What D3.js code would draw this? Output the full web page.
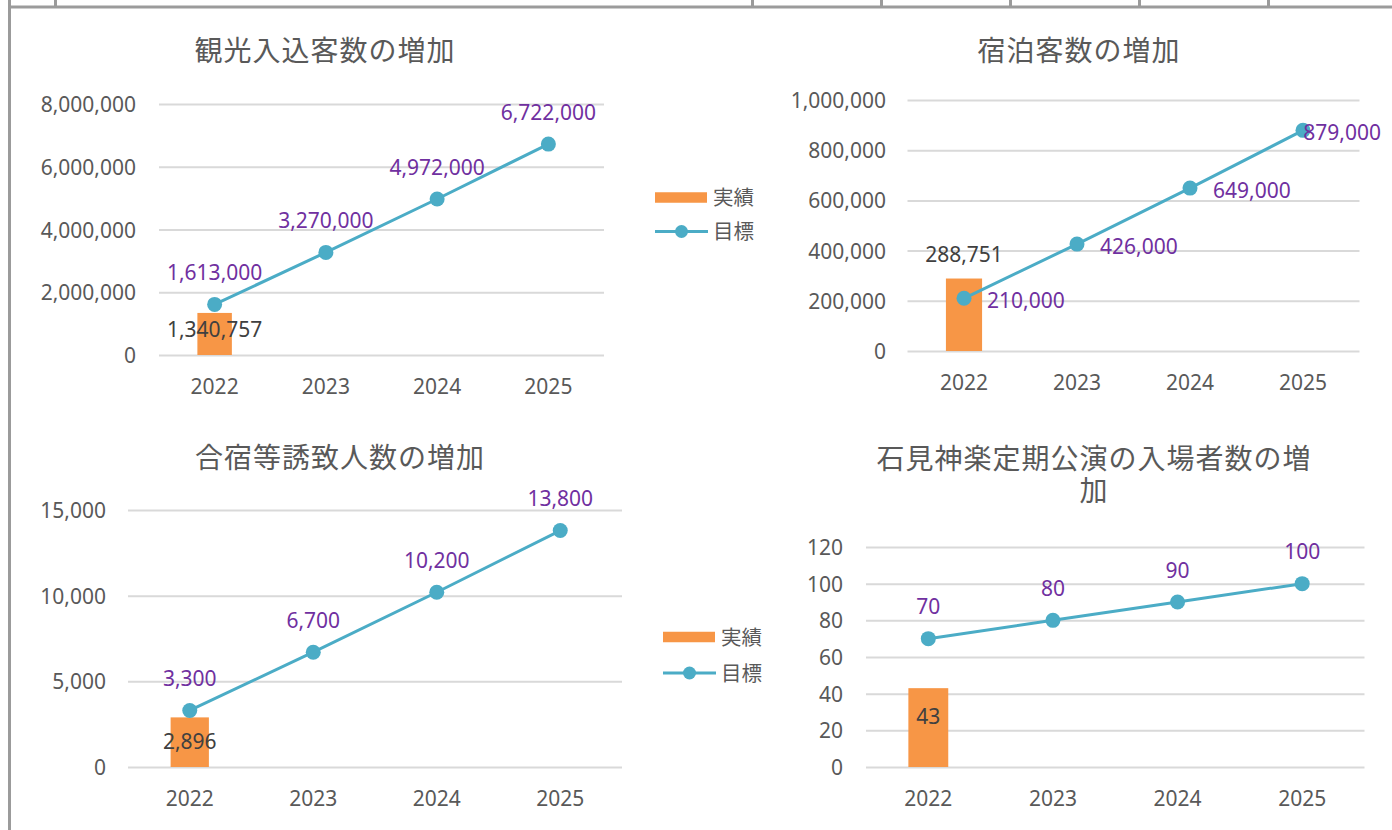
<!DOCTYPE html>
<html><head><meta charset="utf-8">
<script src="https://cdn.jsdelivr.net/npm/d3@7"></script>
<style>
html,body{margin:0;padding:0;background:#fff;}
svg{display:block;}
</style></head>
<body>
<svg id="c" width="1392" height="830"></svg>
<script>
// ---------------- DATA ----------------
const years = ["2022", "2023", "2024", "2025"];
const legendLabels = ["実績", "目標"];

const titleTourism = ["観光入込客数の増加"];
const tourismActual = [1340757, null, null, null];
const tourismTarget = [1613000, 3270000, 4972000, 6722000];
const tourismTicks = [0, 2000000, 4000000, 6000000, 8000000];

const titleLodging = ["宿泊客数の増加"];
const lodgingActual = [288751, null, null, null];
const lodgingTarget = [210000, 426000, 649000, 879000];
const lodgingTicks = [0, 200000, 400000, 600000, 800000, 1000000];

const titleCamp = ["合宿等誘致人数の増加"];
const campActual = [2896, null, null, null];
const campTarget = [3300, 6700, 10200, 13800];
const campTicks = [0, 5000, 10000, 15000];

const titleKagura = ["石見神楽定期公演の入場者数の増", "加"];
const kaguraActual = [43, null, null, null];
const kaguraTarget = [70, 80, 90, 100];
const kaguraTicks = [0, 20, 40, 60, 80, 100, 120];

// ---------------- STYLE / LAYOUT ----------------
const C = {
  bar: "#F79646", line: "#4BACC6", targetLbl: "#7030A0", actualLbl: "#404040",
  axis: "#595959", grid: "#D9D9D9", frame: "#9B9B9B"
};
const numFont = '"Noto Sans", "Open Sans", sans-serif';
const cjkFont = '"Noto Sans CJK JP", "Noto Sans CJK SC", sans-serif';
const FS = 21;

const charts = [
  { title: titleTourism, actual: tourismActual, target: tourismTarget, ticks: tourismTicks,
    x0: 159, x1: 604, yTop: 104, yBot: 355, yLabelX: 136, barFrac: 0.31,
    actualPos: { mode: "inside", dy: 16.5 }, targetPos: "above",
    titleX: 325, titleY: 50.5, legend: { x: 655, y1: 197.5, y2: 231.5 } },
  { title: titleLodging, actual: lodgingActual, target: lodgingTarget, ticks: lodgingTicks,
    x0: 907.5, x1: 1359.5, yTop: 100, yBot: 351, yLabelX: 886, barFrac: 0.32,
    actualPos: { mode: "above", dy: -24 }, targetPos: "right", clampRight: 1381,
    titleX: 1079, titleY: 50.5, legend: null },
  { title: titleCamp, actual: campActual, target: campTarget, ticks: campTicks,
    x0: 128, x1: 622, yTop: 510, yBot: 767, yLabelX: 106, barFrac: 0.31,
    actualPos: { mode: "inside", dy: 24 }, targetPos: "above",
    titleX: 340, titleY: 457.5, legend: { x: 663, y1: 637, y2: 673 } },
  { title: titleKagura, actual: kaguraActual, target: kaguraTarget, ticks: kaguraTicks,
    x0: 866, x1: 1364.5, yTop: 547, yBot: 767, yLabelX: 843, barFrac: 0.32,
    actualPos: { mode: "inside", dy: 28 }, targetPos: "above",
    titleX: 1094, titleY: 458, legend: null }
];
const titleLineGap = 32;

const svg = d3.select("#c");

// frame (spreadsheet cell borders)
const topCols = [55.5, 752.5, 881.5, 1010.5, 1139.5, 1268.5];
svg.selectAll("line.col").data(topCols).enter().append("line")
  .attr("x1", d => d).attr("x2", d => d).attr("y1", 0).attr("y2", 6)
  .attr("stroke", C.frame).attr("stroke-width", 3);
svg.append("line").attr("x1", 8).attr("x2", 1392).attr("y1", 7).attr("y2", 7)
  .attr("stroke", C.frame).attr("stroke-width", 3);
svg.append("line").attr("x1", 9.5).attr("x2", 9.5).attr("y1", 0).attr("y2", 830)
  .attr("stroke", C.frame).attr("stroke-width", 3);

const fmt = d3.format(",");

charts.forEach(cfg => {
  const g = svg.append("g");
  const x = d3.scaleBand().domain(years).range([cfg.x0, cfg.x1]).padding(0);
  const y = d3.scaleLinear().domain([0, d3.max(cfg.ticks)]).range([cfg.yBot, cfg.yTop]);
  const cx = d => x(d) + x.bandwidth() / 2;

  // title (one text element, one tspan per line)
  const tt = g.append("text")
    .attr("x", cfg.titleX).attr("y", cfg.titleY + 0.38 * 28)
    .attr("text-anchor", "middle").attr("font-family", cjkFont)
    .attr("font-size", 28).attr("letter-spacing", 1).attr("fill", C.axis);
  cfg.title.forEach((t, i) => {
    tt.append("tspan").text(t).attr("x", cfg.titleX)
      .attr("dy", i === 0 ? 0 : titleLineGap);
  });

  // y axis with gridlines
  const ya = g.append("g").attr("transform", `translate(${cfg.x0},0)`)
    .call(d3.axisLeft(y).tickValues(cfg.ticks).tickFormat(fmt)
      .tickSize(-(cfg.x1 - cfg.x0)).tickPadding(cfg.x0 - cfg.yLabelX));
  ya.select(".domain").remove();
  ya.selectAll(".tick line").attr("stroke", C.grid).attr("stroke-width", 2);
  ya.selectAll(".tick text").attr("fill", C.axis).attr("font-family", numFont)
    .attr("font-size", FS).attr("dy", "0.36em");

  // x axis
  const xa = g.append("g").attr("transform", `translate(0,${cfg.yBot})`)
    .call(d3.axisBottom(x).tickSize(0));
  xa.select(".domain").remove();
  xa.selectAll(".tick text").attr("fill", C.axis).attr("font-family", numFont)
    .attr("font-size", FS).attr("dy", null).attr("y", 31 + 0.36 * FS);

  // bars
  const bw = x.bandwidth() * cfg.barFrac;
  const barData = years.map((yr, i) => ({ yr, v: cfg.actual[i] })).filter(d => d.v != null);
  g.selectAll("rect.bar").data(barData).enter().append("rect")
    .attr("x", d => cx(d.yr) - bw / 2).attr("width", bw)
    .attr("y", d => y(d.v)).attr("height", d => y(0) - y(d.v))
    .attr("fill", C.bar);

  // line
  const lineData = years.map((yr, i) => ({ yr, v: cfg.target[i] }));
  g.append("path").datum(lineData)
    .attr("d", d3.line().x(d => cx(d.yr)).y(d => y(d.v)))
    .attr("fill", "none").attr("stroke", C.line).attr("stroke-width", 3);
  g.selectAll("circle.pt").data(lineData).enter().append("circle")
    .attr("cx", d => cx(d.yr)).attr("cy", d => y(d.v)).attr("r", 7.5)
    .attr("fill", C.line);

  // actual labels
  g.selectAll("text.al").data(barData).enter().append("text")
    .text(d => fmt(d.v))
    .attr("x", d => cx(d.yr))
    .attr("y", d => y(d.v) + cfg.actualPos.dy + 0.36 * FS)
    .attr("text-anchor", "middle").attr("font-family", numFont)
    .attr("font-size", FS).attr("fill", C.actualLbl);

  // target labels
  const tl = g.selectAll("text.tl").data(lineData).enter().append("text")
    .text(d => fmt(d.v)).attr("font-family", numFont)
    .attr("font-size", FS).attr("fill", C.targetLbl);
  if (cfg.targetPos === "above") {
    tl.attr("x", d => cx(d.yr)).attr("y", d => y(d.v) - 32 + 0.36 * FS)
      .attr("text-anchor", "middle");
  } else {
    tl.attr("y", d => y(d.v) + 2 + 0.36 * FS).attr("text-anchor", "start")
      .each(function (d) {
        const w = this.getComputedTextLength();
        let lx = cx(d.yr) + 23;
        if (lx + w > cfg.clampRight) lx = cfg.clampRight - w;
        d3.select(this).attr("x", lx);
      });
  }

  // legend
  if (cfg.legend) {
    const L = cfg.legend;
    g.append("rect").attr("x", L.x).attr("y", L.y1 - 5.25).attr("width", 52).attr("height", 10.5)
      .attr("fill", C.bar);
    g.append("line").attr("x1", L.x).attr("x2", L.x + 53).attr("y1", L.y2).attr("y2", L.y2)
      .attr("stroke", C.line).attr("stroke-width", 3);
    g.append("circle").attr("cx", L.x + 26.5).attr("cy", L.y2).attr("r", 6.5).attr("fill", C.line);
    [L.y1, L.y2].forEach((yy, i) => {
      g.append("text").text(legendLabels[i]).attr("x", L.x + 58).attr("y", yy + 0.38 * 20.5)
        .attr("font-family", cjkFont).attr("font-size", 20.5).attr("fill", C.axis);
    });
  }
});
</script>
</body></html>
